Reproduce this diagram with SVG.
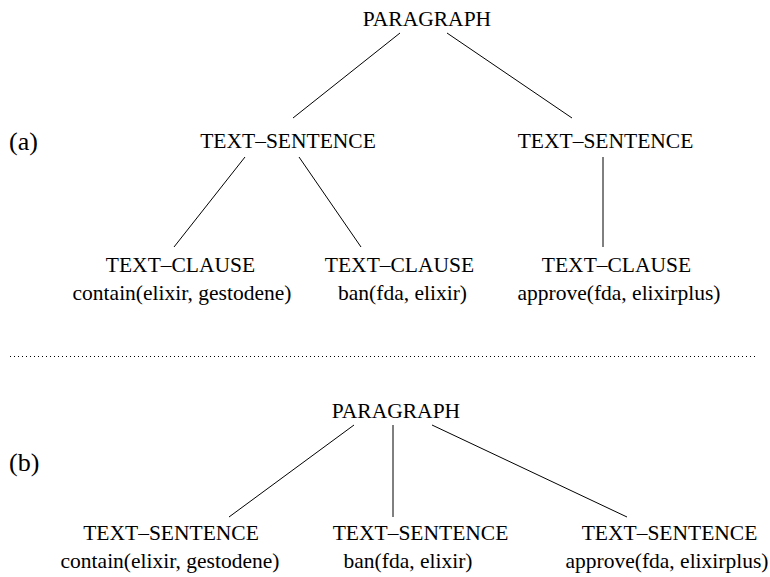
<svg xmlns="http://www.w3.org/2000/svg" width="770" height="577" viewBox="0 0 770 577">
<style>
  text { font-family: "Liberation Serif", "Times New Roman", Times, "DejaVu Serif", serif; font-size: 21.5px; fill: #000; text-anchor: middle; }
  .lbl { font-size: 26px; text-anchor: start; }
  .edge { stroke: #000; stroke-width: 1; fill: none; }
  .sep { stroke: #000; stroke-width: 1; stroke-dasharray: 1 3; fill: none; }
</style>
<rect width="770" height="577" fill="#fff"/>
<g font-family="Liberation Serif, Times New Roman, serif">
<text class="lbl" x="9" y="150">(a)</text>
<text class="lbl" x="9" y="471">(b)</text>
</g>
<g id="connectors">
  <line class="edge" x1="400" y1="33" x2="293" y2="118"/>
  <line class="edge" x1="447" y1="33" x2="572" y2="118"/>
  <line class="edge" x1="245" y1="157" x2="174" y2="247"/>
  <line class="edge" x1="299" y1="157" x2="361" y2="247"/>
  <line class="edge" x1="603" y1="157" x2="603" y2="247"/>
  <line class="edge" x1="354" y1="425" x2="229" y2="517"/>
  <line class="edge" x1="393" y1="425" x2="393" y2="517"/>
  <line class="edge" x1="432" y1="425" x2="627" y2="517"/>
</g>
<line class="sep" x1="10" y1="356.5" x2="757" y2="356.5"/>
<g id="a-paragraph"><text x="427" y="26">PARAGRAPH</text></g>
<g id="a-sentence1"><text x="288" y="148">TEXT–SENTENCE</text></g>
<g id="a-sentence2"><text x="605.5" y="148">TEXT–SENTENCE</text></g>
<g id="a-clause1"><text x="180.5" y="272">TEXT–CLAUSE</text><text x="182" y="300">contain(elixir, gestodene)</text></g>
<g id="a-clause2"><text x="399.5" y="272">TEXT–CLAUSE</text><text x="402.5" y="300">ban(fda, elixir)</text></g>
<g id="a-clause3"><text x="616.5" y="272">TEXT–CLAUSE</text><text x="619" y="300">approve(fda, elixirplus)</text></g>
<g id="b-paragraph"><text x="396" y="418">PARAGRAPH</text></g>
<g id="b-sentence1"><text x="171" y="540">TEXT–SENTENCE</text><text x="170" y="568">contain(elixir, gestodene)</text></g>
<g id="b-sentence2"><text x="420.5" y="540">TEXT–SENTENCE</text><text x="408" y="568">ban(fda, elixir)</text></g>
<g id="b-sentence3"><text x="669.5" y="540">TEXT–SENTENCE</text><text x="667" y="568">approve(fda, elixirplus)</text></g>
</svg>
